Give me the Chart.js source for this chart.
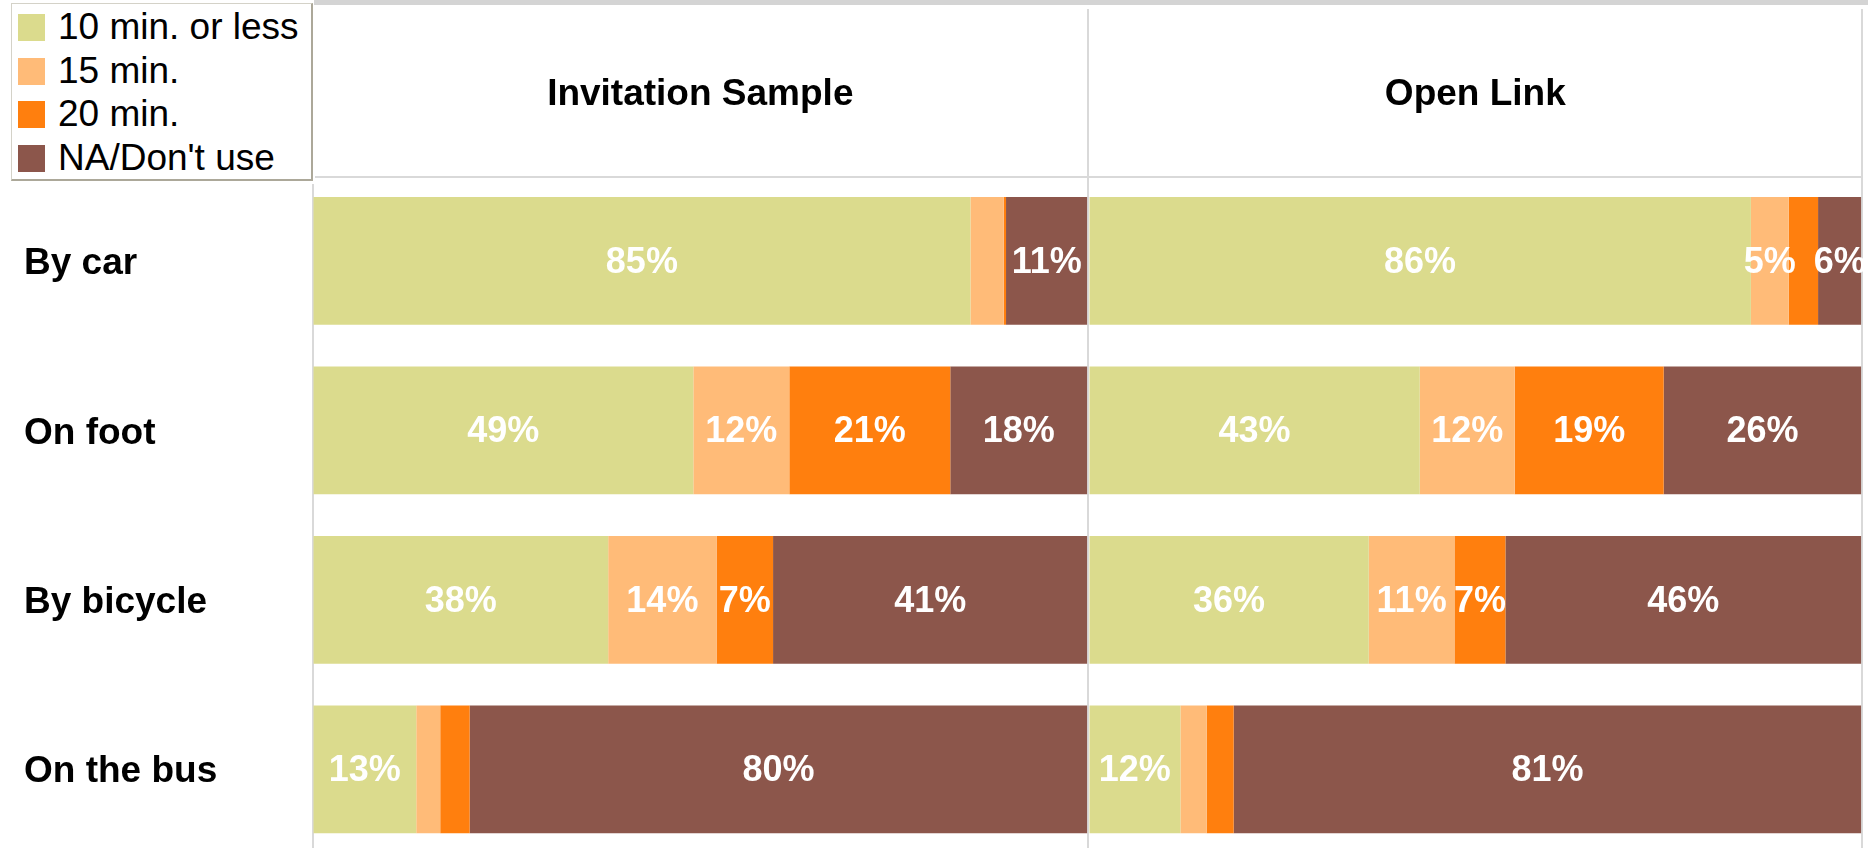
<!DOCTYPE html>
<html>
<head>
<meta charset="utf-8">
<script src="https://cdn.jsdelivr.net/npm/chart.js@4/dist/chart.umd.min.js"></script>
<style>
  html, body { margin: 0; padding: 0; background: #ffffff; overflow: hidden; }
  body { width: 1868px; height: 848px; position: relative; font-family: "Liberation Sans", Arial, sans-serif; }
  .ln { position: absolute; background: #d9d9d9; }
  #legend { position: absolute; left: 11px; top: 3px; width: 299px; height: 175px;
            border-top: 1px solid #d4d2c8; border-left: 1px solid #d4d2c8;
            border-right: 2px solid #aca899; border-bottom: 2px solid #aca899; background: #fff; }
  .li { position: absolute; left: 0; height: 44px; line-height: 44px; font-size: 37px; color: #000; white-space: nowrap; }
  .sw { position: absolute; left: 6px; top: 9px; width: 27px; height: 27px; }
  .lt { position: absolute; left: 46px; top: 0; }
  canvas { position: absolute; top: 0; }
</style>
</head>
<body>
<div class="ln" style="left:314px;top:0;width:1554px;height:5px;background:#d4d4d4"></div>
<div class="ln" style="left:315px;top:176px;width:1548px;height:2px"></div>
<div class="ln" style="left:312px;top:184px;width:2px;height:680px"></div>
<div class="ln" style="left:1087px;top:9px;width:2px;height:860px"></div>
<div class="ln" style="left:1861px;top:9px;width:2px;height:860px"></div>
<div id="legend"></div>
<canvas id="c1" width="1088" height="854" style="left:0"></canvas>
<canvas id="c2" width="780" height="854" style="left:1088px"></canvas>
<script>
const categories = ['By car', 'On foot', 'By bicycle', 'On the bus'];
const seriesNames = ['10 min. or less', '15 min.', '20 min.', "NA/Don't use"];
const seriesColors = ['#dbdb8d', '#ffbb78', '#ff7f0e', '#8c564b'];
const panelTitles = ['Invitation Sample', 'Open Link'];

// Invitation Sample (percent)
const invTen     = [84.9, 49.1, 38.1, 13.3];
const invFifteen = [4.3, 12.4, 14.0, 3.1];
const invTwenty  = [0.3, 20.8, 7.3, 3.8];
const invNA      = [10.5, 17.7, 40.6, 79.8];

// Open Link (percent)
const openTen     = [85.7, 42.8, 36.2, 11.8];
const openFifteen = [4.9, 12.3, 11.1, 3.4];
const openTwenty  = [3.8, 19.3, 6.6, 3.5];
const openNA      = [5.6, 25.6, 46.1, 81.3];

const FONT = '"Liberation Sans", Arial, sans-serif';

// HTML legend from the series arrays
const lg = document.getElementById('legend');
const rowTops = [1, 45, 88, 132];
seriesNames.forEach((n, i) => {
  const d = document.createElement('div');
  d.className = 'li';
  d.style.top = rowTops[i] + 'px';
  const s = document.createElement('span'); s.className = 'sw'; s.style.background = seriesColors[i];
  const t = document.createElement('span'); t.className = 'lt'; t.textContent = n;
  d.appendChild(s); d.appendChild(t); lg.appendChild(d);
});

const labelPlugin = {
  id: 'segLabels',
  afterDatasetsDraw(chart) {
    const ctx = chart.ctx;
    ctx.save();
    ctx.fillStyle = '#ffffff';
    ctx.font = 'bold 36px ' + FONT;
    ctx.textAlign = 'center';
    ctx.textBaseline = 'middle';
    chart.data.datasets.forEach((ds, i) => {
      const meta = chart.getDatasetMeta(i);
      meta.data.forEach((el, j) => {
        const v = ds.data[j];
        if (v < 4.5) return;
        const p = el.getProps(['x', 'y', 'base'], true);
        ctx.fillText(Math.round(v) + '%', (p.x + p.base) / 2, p.y + 2);
      });
    });
    ctx.restore();
  }
};

function makeChart(id, title, series, showY, pad) {
  return new Chart(document.getElementById(id), {
    type: 'bar',
    data: {
      labels: categories,
      datasets: series.map((d, i) => ({
        label: seriesNames[i],
        data: d,
        backgroundColor: seriesColors[i],
        borderWidth: 0,
        categoryPercentage: 1,
        barPercentage: 0.754
      }))
    },
    options: {
      indexAxis: 'y',
      responsive: false,
      animation: false,
      devicePixelRatio: 1,
      layout: { padding: pad },
      plugins: {
        legend: { display: false },
        tooltip: { enabled: false },
        title: {
          display: true,
          text: title,
          fullSize: false,
          color: '#000',
          font: { family: FONT, size: 37, weight: 'bold', lineHeight: 1.2 },
          padding: { top: 72.8, bottom: 59 }
        }
      },
      scales: {
        x: { stacked: true, min: 0, max: 100, display: false },
        y: {
          stacked: true,
          display: showY,
          grid: { display: false, drawTicks: false },
          border: { display: false },
          ticks: {
            crossAlign: 'far',
            padding: 0,
            labelOffset: 3,
            color: '#000',
            font: { family: FONT, size: 37, weight: 'bold' }
          },
          afterFit(scale) {
            if (showY) scale.width = 289.3;
            scale.paddingTop = 0;
            scale.paddingBottom = 0;
          }
        }
      }
    },
    plugins: [labelPlugin]
  });
}

makeChart('c1', panelTitles[0], [invTen, invFifteen, invTwenty, invNA], true,
  { left: 24, right: 0.7, top: 0, bottom: 0 });
makeChart('c2', panelTitles[1], [openTen, openFifteen, openTwenty, openNA], false,
  { left: 1.3, right: 6.7, top: 0, bottom: 0 });
</script>
</body>
</html>
